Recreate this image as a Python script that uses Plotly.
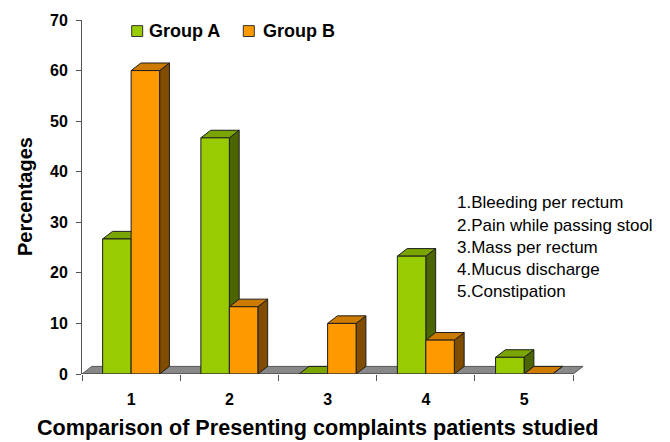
import plotly.graph_objects as go

# Presenting complaints (category index) and percentage of patients per group
categories = [1, 2, 3, 4, 5]
group_a = [26.7, 46.7, 0, 23.3, 3.3]
group_b = [60, 13.3, 10, 6.7, 0]
series_names = ["Group A", "Group B"]
complaints = [
    "1.Bleeding per rectum",
    "2.Pain while passing stool",
    "3.Mass per rectum",
    "4.Mucus discharge",
    "5.Constipation",
]
y_ticks = [0, 10, 20, 30, 40, 50, 60, 70]

# Styling of the pseudo-3D boxes
FONT = "Liberation Sans, Arial, sans-serif"
BAR_W = 0.29          # width of one bar, in category units
DEPTH_X = 0.1         # horizontal shift of the back faces (category units)
DEPTH_Y = 1.5         # vertical shift of the back faces (percentage units)
EDGE = "#1e1e1e"
COLORS = {
    "Group A": {"front": "#99CC00", "top": "#7AA500", "side": "#4B6600"},
    "Group B": {"front": "#FF9900", "top": "#CC7A00", "side": "#7F4C00"},
}

# Plot-area geometry (pixels) used to place paper-referenced decorations
L, R, T, B = 82, 583, 16, 374
W, H = 670, 442


def px_x(px):
    return (px - L) / (R - L)


def px_y(py):
    return (B - py) / (B - T)


def box_faces(x0, x1, h):
    """Front, top and right-side polygons of a bar box from x0 to x1 with height h."""
    front = [(x0, 0), (x1, 0), (x1, h), (x0, h), (x0, 0)]
    top = [(x0, h), (x1, h), (x1 + DEPTH_X, h + DEPTH_Y), (x0 + DEPTH_X, h + DEPTH_Y), (x0, h)]
    side = [(x1, 0), (x1 + DEPTH_X, DEPTH_Y), (x1 + DEPTH_X, h + DEPTH_Y), (x1, h), (x1, 0)]
    return {"front": front, "top": top, "side": side}


def polys_trace(polys, color, name):
    xs, ys = [], []
    for poly in polys:
        xs += [p[0] for p in poly] + [None]
        ys += [p[1] for p in poly] + [None]
    return go.Scatter(
        x=xs, y=ys, mode="lines", fill="toself", fillcolor=color,
        line=dict(color=EDGE, width=1), hoverinfo="skip", showlegend=False, name=name,
    )


fig = go.Figure()

# Grey floor slab along the category axis
x_lo, x_hi = categories[0] - 0.5, categories[-1] + 0.5
floor = [(x_lo, 0), (x_hi, 0), (x_hi + DEPTH_X, DEPTH_Y), (x_lo + DEPTH_X, DEPTH_Y), (x_lo, 0)]
fig.add_trace(go.Scatter(
    x=[p[0] for p in floor], y=[p[1] for p in floor], mode="lines", fill="toself",
    fillcolor="#888888", line=dict(color="#555555", width=1), hoverinfo="skip", showlegend=False,
))

# Group A sits left of each category centre, Group B right of it; A is drawn first
for name, values, offset in [(series_names[0], group_a, -BAR_W), (series_names[1], group_b, 0.0)]:
    faces = {"side": [], "top": [], "front": []}
    for c, v in zip(categories, values):
        f = box_faces(c + offset, c + offset + BAR_W, v)
        for k in faces:
            faces[k].append(f[k])
    for k in ["side", "top", "front"]:
        fig.add_trace(polys_trace(faces[k], COLORS[name][k], f"{name} {k}"))

# Front edge of the floor acts as the x-axis line
fig.add_trace(go.Scatter(
    x=[x_lo, x_hi], y=[0, 0], mode="lines", line=dict(color="#444444", width=1),
    hoverinfo="skip", showlegend=False,
))

fig.update_layout(
    width=W, height=H, autosize=False,
    margin=dict(l=L, r=W - R, t=T, b=H - B, pad=0),
    paper_bgcolor="white", plot_bgcolor="white",
    font=dict(family=FONT, color="black"),
    showlegend=False,
    xaxis=dict(
        range=[x_lo, x_lo + (R - L) / 98.24], showgrid=False, zeroline=False, showline=False,
        tickmode="array", tickvals=categories, ticktext=[str(c) for c in categories],
        ticks="outside", ticklen=6, tickcolor="rgba(0,0,0,0)",
        tickfont=dict(size=16, weight="bold", family=FONT),
        ticklabelstandoff=5,
        minor=dict(
            tickmode="array", tickvals=[c - 0.5 for c in categories] + [x_hi],
            ticks="outside", ticklen=6, tickwidth=1, tickcolor="#555555", showgrid=False,
        ),
        fixedrange=True,
    ),
    yaxis=dict(
        range=[0, 70], tickmode="array", tickvals=y_ticks, showgrid=False, zeroline=False,
        showline=True, linecolor="#555555", linewidth=1,
        ticks="outside", ticklen=5, tickcolor="#555555",
        tickfont=dict(size=16, weight="bold", family=FONT),
        ticklabelstandoff=5,
        fixedrange=True,
    ),
)

annotations = [
    dict(text="Comparison of Presenting complaints patients studied", x=px_x(317.5), y=px_y(428),
         xanchor="center", yanchor="middle", font=dict(size=21.6, weight="bold", family=FONT)),
    dict(text="Percentages", x=px_x(25), y=px_y(195), textangle=-90,
         xanchor="center", yanchor="middle", font=dict(size=20, weight="bold", family=FONT)),
]

# Key of the complaint numbers
for i, label in enumerate(complaints):
    annotations.append(dict(
        text=label, x=px_x(455), y=px_y(201 + 22.4 * i), xanchor="left", yanchor="middle",
        font=dict(size=17, family=FONT),
    ))

# Legend: coloured swatch followed by the group name
shapes = []
for name, sq_left, txt_left in [(series_names[0], 131.7, 146.7), (series_names[1], 243.3, 260.7)]:
    shapes.append(dict(
        type="rect", xref="paper", yref="paper",
        x0=px_x(sq_left), x1=px_x(sq_left + 11), y0=px_y(21.7), y1=px_y(32.7),
        fillcolor=COLORS[name]["front"], line=dict(color="#333333", width=1),
    ))
    annotations.append(dict(
        text=name, x=px_x(txt_left), y=px_y(27), xanchor="left", yanchor="middle",
        font=dict(size=18, weight="bold", family=FONT),
    ))

for a in annotations:
    a.update(xref="paper", yref="paper", showarrow=False)

fig.update_layout(annotations=annotations, shapes=shapes)

fig.write_html("out.html")
